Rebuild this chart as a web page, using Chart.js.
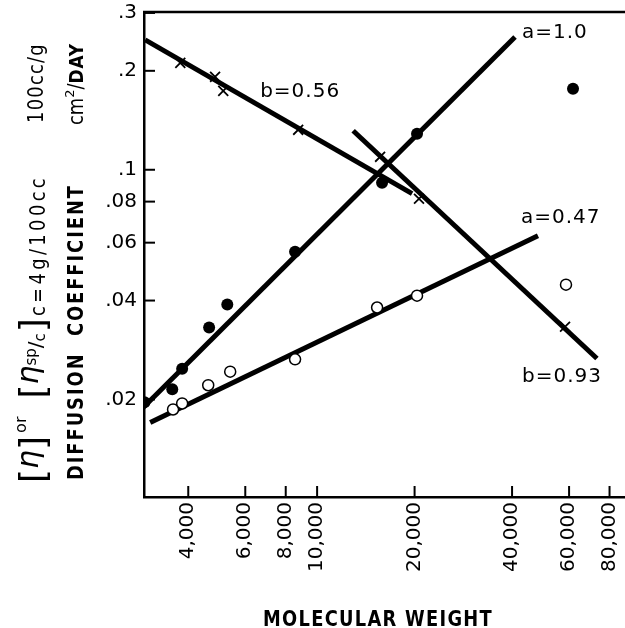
<!DOCTYPE html>
<html>
<head>
<meta charset="utf-8">
<script src="https://cdn.jsdelivr.net/npm/chart.js@4.4.1/dist/chart.umd.min.js"></script>
<style>
  html, body { margin: 0; padding: 0; background: #fff; }
  #wrap { width: 625px; height: 628px; }
</style>
</head>
<body>
<div id="wrap"><canvas id="chart"></canvas></div>
<script>
/* axis ticks */
var xTicks      = [4000, 6000, 8000, 10000, 20000, 40000, 60000, 80000];
var xTickLabels = ['4,000', '6,000', '8,000', '10,000', '20,000', '40,000', '60,000', '80,000'];
var yTicks      = [0.02, 0.04, 0.06, 0.08, 0.1, 0.2, 0.3];
var yTickLabels = ['.02', '.04', '.06', '.08', '.1', '.2', '.3'];

/* intrinsic viscosity (filled circles) */
var filledM = [2930, 3570, 3830, 4640, 5280, 8550, 15870, 20350, 61700];
var filledV = [0.0196, 0.0215, 0.0248, 0.0331, 0.0389, 0.0563, 0.0913, 0.1287, 0.1763];

/* reduced viscosity c=4g/100cc (open circles) */
var openM = [3590, 3830, 4610, 5390, 8550, 15320, 20350, 58700];
var openV = [0.01865, 0.01945, 0.0221, 0.0243, 0.0265, 0.0381, 0.0414, 0.0447];

/* diffusion coefficient (x marks) */
var diffM = [3780, 4840, 5130, 8740, 15650, 20640, 58300];
var diffV = [0.2115, 0.1918, 0.1738, 0.1323, 0.1095, 0.0816, 0.0333];

/* drawn fit lines, end points */
var fitA10M  = [2904, 40850],  fitA10V  = [0.0189, 0.2536];
var fitA047M = [3052, 48090],  fitA047V = [0.01703, 0.0630];
var fitB056M = [2944, 19650],  fitB056V = [0.2484, 0.0846];
var fitB093M = [12920, 73140], fitB093V = [0.1314, 0.02665];

/* slope labels: text, M, value */
var slopeText = ['a=1.0', 'b=0.56', 'a=0.47', 'b=0.93'];
var slopeM    = [42930, 6670, 42630, 42930];
var slopeV    = [0.2609, 0.1726, 0.0715, 0.0235];

var FONT = '"DejaVu Sans", sans-serif';

function pts(ms, vs) {
  return ms.map(function (m, i) { return { x: m, y: vs[i] }; });
}

function fitLine(ms, vs) {
  return {
    type: 'line', data: pts(ms, vs), borderColor: '#000', borderWidth: 5,
    borderCapStyle: 'butt', pointRadius: 0, fill: false, order: 2, clip: 0
  };
}

/* draw text runs along a vertical baseline, reading upward */
function drawRuns(ctx, x, y, runs) {
  ctx.save();
  ctx.translate(x, y);
  ctx.rotate(-Math.PI / 2);
  ctx.textBaseline = 'alphabetic';
  ctx.textAlign = 'left';
  var cx = 0;
  runs.forEach(function (r) {
    var sx = r.sx || 1;
    ctx.font = r.f;
    ctx.letterSpacing = (r.ls || 0) + 'px';
    ctx.save();
    ctx.translate(cx, r.dy || 0);
    ctx.scale(sx, 1);
    ctx.fillText(r.t, 0, 0);
    ctx.restore();
    cx += ctx.measureText(r.t).width * sx + (r.gap || 0);
  });
  ctx.restore();
}

var framePlugin = {
  id: 'frame',
  beforeDatasetsDraw: function (chart) {
    var ctx = chart.ctx, a = chart.chartArea;
    var xs = chart.scales.x, ys = chart.scales.y;
    ctx.save();
    ctx.strokeStyle = '#000';
    ctx.lineWidth = 2;
    xs.ticks.forEach(function (t) {
      var px = xs.getPixelForValue(t.value);
      ctx.beginPath(); ctx.moveTo(px, a.bottom); ctx.lineTo(px, a.bottom - 11); ctx.stroke();
    });
    ys.ticks.forEach(function (t) {
      var py = ys.getPixelForValue(t.value);
      ctx.beginPath(); ctx.moveTo(a.left, py); ctx.lineTo(a.left + 11, py); ctx.stroke();
    });
    ctx.lineWidth = 2.5;
    ctx.beginPath(); ctx.moveTo(a.left - 1, a.top); ctx.lineTo(a.right, a.top); ctx.stroke();
    ctx.restore();
  },
  afterDraw: function (chart) {
    var ctx = chart.ctx;
    var xs = chart.scales.x, ys = chart.scales.y;
    ctx.save();
    ctx.fillStyle = '#000';

    /* slope labels */
    ctx.font = '20px ' + FONT;
    ctx.letterSpacing = '1px';
    ctx.textBaseline = 'middle';
    ctx.textAlign = 'left';
    slopeText.forEach(function (t, i) {
      ctx.fillText(t, xs.getPixelForValue(slopeM[i]), ys.getPixelForValue(slopeV[i]));
    });

    /* x title */
    ctx.save();
    ctx.font = 'bold 21px ' + FONT;
    ctx.letterSpacing = '1.5px';
    ctx.textAlign = 'center';
    ctx.textBaseline = 'alphabetic';
    ctx.translate(378, 626);
    ctx.scale(0.85, 1);
    ctx.fillText('MOLECULAR WEIGHT', 0, 0);
    ctx.restore();

    /* y titles, two columns */
    var br = '36px ' + FONT, eta = 'italic 30px ' + FONT;
    drawRuns(ctx, 44, 483, [
      { t: '[', f: br, dy: 1 },
      { t: '\u03b7', f: eta, dy: -6 },
      { t: ']', f: br, dy: 1, gap: 3 },
      { t: 'or', f: '16px ' + FONT, dy: -18, gap: 18 },
      { t: '[', f: br, dy: 1 },
      { t: '\u03b7', f: eta, dy: -6 },
      { t: 'sp', f: '15px ' + FONT, dy: -8 },
      { t: '/', f: '20px ' + FONT, dy: -2 },
      { t: 'c', f: '15px ' + FONT, dy: 1, gap: 1 },
      { t: ']', f: br, dy: 1, gap: 2 },
      { t: 'c=4g/100cc', f: '21px ' + FONT, dy: 1, ls: 4, sx: 0.85 }
    ]);
    drawRuns(ctx, 43, 123, [
      { t: '100cc/g', f: '21px ' + FONT, ls: 1.5, sx: 0.85 }
    ]);
    drawRuns(ctx, 83, 480, [
      { t: 'DIFFUSION  COEFFICIENT', f: 'bold 21px ' + FONT, ls: 2.3, sx: 0.85 }
    ]);
    drawRuns(ctx, 83, 125, [
      { t: 'cm', f: '21px ' + FONT, sx: 0.85 },
      { t: '2', f: '13px ' + FONT, dy: -9 },
      { t: '/', f: '21px ' + FONT, sx: 0.85 },
      { t: 'DAY', f: 'bold 20px ' + FONT, ls: 1, sx: 0.85 }
    ]);
    ctx.restore();
  }
};

new Chart(document.getElementById('chart'), {
  type: 'scatter',
  data: {
    datasets: [
      { data: pts(filledM, filledV), pointStyle: 'circle', pointRadius: 6, backgroundColor: '#000', borderColor: '#000', borderWidth: 0, order: 0, clip: 0 },
      { data: pts(openM, openV), pointStyle: 'circle', pointRadius: 5.5, backgroundColor: '#fff', borderColor: '#000', borderWidth: 1.5, order: 0, clip: 0 },
      { data: pts(diffM, diffV), pointStyle: 'crossRot', pointRadius: 7, borderColor: '#000', borderWidth: 1.8, order: 0, clip: 0 },
      fitLine(fitA10M, fitA10V),
      fitLine(fitA047M, fitA047V),
      fitLine(fitB056M, fitB056V),
      fitLine(fitB093M, fitB093V)
    ]
  },
  options: {
    responsive: true,
    maintainAspectRatio: false,
    animation: false,
    devicePixelRatio: 1,
    layout: { autoPadding: false, padding: { top: 12, left: 0, right: 0, bottom: 0 } },
    plugins: { legend: { display: false }, tooltip: { enabled: false } },
    scales: {
      x: {
        type: 'logarithmic', position: 'bottom', min: 2920, max: 89300,
        grid: { display: false, drawTicks: false },
        border: { display: true, color: '#000', width: 2.5 },
        afterBuildTicks: function (s) { s.ticks = xTicks.map(function (v) { return { value: v }; }); },
        afterFit: function (s) { s.height = 131; s.paddingLeft = 0; s.paddingRight = 0; },
        ticks: {
          color: '#000', font: { family: FONT, size: 20 }, padding: 5,
          minRotation: 90, maxRotation: 90, autoSkip: false,
          callback: function (v) { var i = xTicks.indexOf(v); return i < 0 ? '' : xTickLabels[i]; }
        }
      },
      y: {
        type: 'logarithmic', position: 'left', min: 0.0101, max: 0.302,
        grid: { display: false, drawTicks: false },
        border: { display: true, color: '#000', width: 2.5 },
        afterBuildTicks: function (s) { s.ticks = yTicks.map(function (v) { return { value: v }; }); },
        afterFit: function (s) { s.width = 144; s.paddingTop = 0; s.paddingBottom = 0; },
        ticks: {
          color: '#000', font: { family: FONT, size: 20 }, padding: 7, autoSkip: false,
          callback: function (v) { var i = yTicks.indexOf(v); return i < 0 ? '' : yTickLabels[i]; }
        }
      }
    }
  },
  plugins: [framePlugin]
});
</script>
</body>
</html>
